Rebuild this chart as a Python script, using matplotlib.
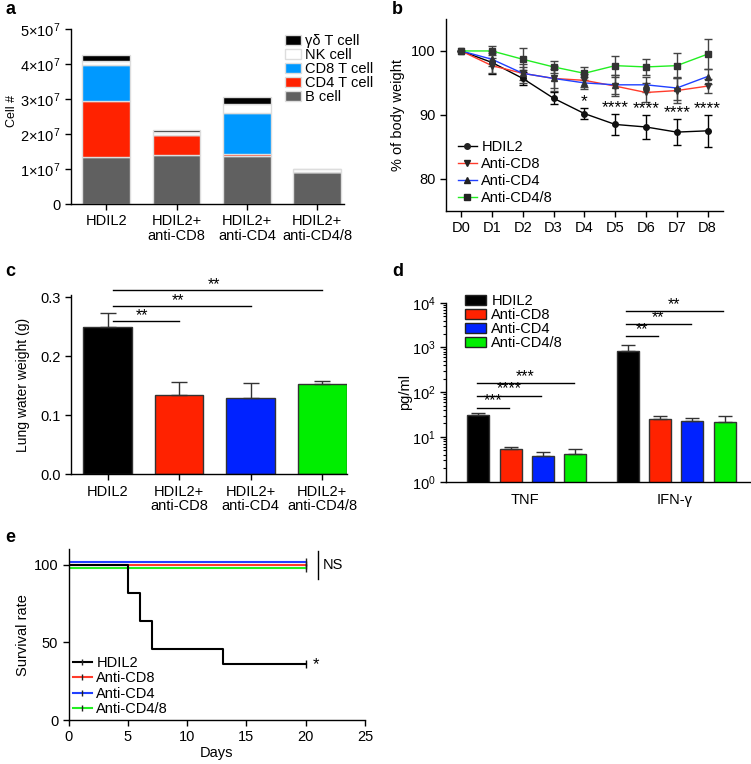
import matplotlib
matplotlib.use('Agg')
import matplotlib.pyplot as plt
import numpy as np
from matplotlib.ticker import FixedLocator, FixedFormatter, NullFormatter, LogLocator
from matplotlib.lines import Line2D
from matplotlib.patches import Patch

plt.rcParams['font.family'] = ['Liberation Sans', 'DejaVu Sans']
plt.rcParams['mathtext.fontset'] = 'custom'
plt.rcParams['mathtext.rm'] = 'Liberation Sans'
plt.rcParams['mathtext.it'] = 'Liberation Sans:italic'
plt.rcParams['mathtext.bf'] = 'Liberation Sans:bold'
plt.rcParams['font.size'] = 10.5
plt.rcParams['axes.linewidth'] = 1.0
plt.rcParams['xtick.major.width'] = 1.0
plt.rcParams['ytick.major.width'] = 1.0
plt.rcParams['xtick.major.size'] = 4
plt.rcParams['ytick.major.size'] = 4

# ---------------- data ----------------
# panel a
a_groups = ['HDIL2', 'HDIL2+\nanti-CD8', 'HDIL2+\nanti-CD4', 'HDIL2+\nanti-CD4/8']
a_cell_types = ['B cell', 'CD4 T cell', 'CD8 T cell', 'NK cell', 'γδ T cell']
a_b_cell = [1.33e7, 1.40e7, 1.38e7, 0.92e7]
a_cd4 = [1.62e7, 0.57e7, 0.05e7, 0.0]
a_cd8 = [1.02e7, 0.0, 1.18e7, 0.0]
a_nk = [0.11e7, 0.09e7, 0.25e7, 0.08e7]
a_gd = [0.17e7, 0.05e7, 0.20e7, 0.0]
a_yticks = [0, 1e7, 2e7, 3e7, 4e7, 5e7]
a_yticklabels = ['0', r'$1{\times}10^{7}$', r'$2{\times}10^{7}$', r'$3{\times}10^{7}$',
                 r'$4{\times}10^{7}$', r'$5{\times}10^{7}$']

# panel b
b_days = ['D0', 'D1', 'D2', 'D3', 'D4', 'D5', 'D6', 'D7', 'D8']
b_series = ['HDIL2', 'Anti-CD8', 'Anti-CD4', 'Anti-CD4/8']
b_hdil2 = [100, 98.2, 95.7, 92.6, 90.2, 88.5, 88.1, 87.3, 87.5]
b_hdil2_err = [0, 1.8, 1.0, 0.9, 0.9, 1.7, 1.9, 2.0, 2.5]
b_cd8 = [100, 97.7, 96.5, 95.7, 95.4, 94.5, 93.5, 93.8, 94.5]
b_cd8_err = [0, 1.2, 1.0, 1.5, 1.0, 1.5, 1.5, 2.0, 1.1]
b_cd4 = [100, 98.7, 96.5, 95.7, 95.0, 94.7, 94.7, 94.2, 96.0]
b_cd4_err = [0, 1.0, 1.5, 2.0, 1.0, 1.5, 1.2, 1.8, 1.2]
b_cd48 = [100, 100, 98.7, 97.5, 96.5, 97.7, 97.5, 97.7, 99.5]
b_cd48_err = [0, 0.7, 1.7, 1.0, 1.0, 1.5, 1.3, 2.0, 2.4]
b_stars = ['', '', '', '', '*', '****', '****', '****', '****']

# panel c
c_values = [0.25, 0.134, 0.13, 0.153]
c_err = [0.024, 0.022, 0.024, 0.005]
c_sig = ['**', '**', '**']

# panel d
d_cytokines = ['TNF', 'IFN-γ']
d_tnf = [31, 5.3, 3.7, 4.2]
d_tnf_err = [3, 0.7, 1.0, 1.3]
d_ifn = [830, 25, 23, 22]
d_ifn_err = [300, 5, 3, 7]
d_tnf_sig = ['***', '****', '***']
d_ifn_sig = ['**', '**', '**']

# panel e
e_series = ['HDIL2', 'Anti-CD8', 'Anti-CD4', 'Anti-CD4/8']
e_hdil2_days = [0, 5, 6, 7, 13, 20]
e_hdil2_surv = [100, 81.8, 63.6, 45.5, 36.4, 36.4]
e_other_days = [0, 20]
e_other_surv = [100, 100]

# ---------------- layout ----------------
W, H = 751, 764
fig = plt.figure(figsize=(W / 100, H / 100), dpi=100)


def rect(l, t, r, b):
    return [l / W, 1 - b / H, (r - l) / W, (b - t) / H]


def style(ax):
    ax.spines['top'].set_visible(False)
    ax.spines['right'].set_visible(False)
    ax.tick_params(direction='out')


RED = '#ff2200'
BLUE = '#0022ff'
GREEN = '#00ee00'
LRED = '#ff3b2b'
LBLUE = '#2040ff'
LGREEN = '#22ee22'

# ---------------- panel a ----------------
ax = fig.add_axes(rect(71, 29, 344, 204))
style(ax)
xa = np.arange(len(a_groups))
colors_a = ['#606060', RED, '#0099ff', 'white', 'black']
stack = [a_b_cell, a_cd4, a_cd8, a_nk, a_gd]
bottom = np.zeros(len(a_groups))
handles = []
for vals, col, lab in zip(stack, colors_a, a_cell_types):
    ax.bar(xa, vals, 0.68, bottom=bottom, color=col, edgecolor='#dddddd', linewidth=1.0)
    bottom = bottom + np.array(vals)
    handles.append(Patch(facecolor=col, edgecolor='#dddddd', linewidth=1.0, label=lab))
ax.set_xlim(-0.5, 3.38)
ax.set_ylim(0, 5e7)
ax.yaxis.set_major_locator(FixedLocator(a_yticks))
ax.yaxis.set_major_formatter(FixedFormatter(a_yticklabels))
ax.set_xticks(xa)
ax.set_xticklabels(a_groups, linespacing=1.05)
ax.set_ylabel('Cell #', fontsize=9)
ax.yaxis.set_label_coords(-0.195, 0.53)
ax.legend(handles[::-1], [h.get_label() for h in handles[::-1]], loc='upper left',
          bbox_to_anchor=(285 / W, 1 - 34 / H), bbox_transform=fig.transFigure,
          frameon=False, fontsize=10.5, borderpad=0, borderaxespad=0,
          handlelength=1.1, handleheight=0.75, handletextpad=0.3, labelspacing=0.0)

# ---------------- panel b ----------------
ax = fig.add_axes(rect(445.7, 19, 723, 210.7))
style(ax)
xb = np.arange(len(b_days))
series_b = [(b_hdil2, b_hdil2_err, 'black', 'o', 'black'),
            (b_cd8, b_cd8_err, LRED, 'v', '#444444'),
            (b_cd4, b_cd4_err, LBLUE, '^', '#444444'),
            (b_cd48, b_cd48_err, LGREEN, 's', '#444444')]
for i, (vals, err, col, mk, ecol) in enumerate(series_b):
    ax.errorbar(xb, vals, yerr=err, fmt='none', ecolor=ecol, elinewidth=1.0,
                capsize=3, capthick=1.0, zorder=2)
for i, (vals, err, col, mk, ecol) in enumerate(series_b):
    ax.plot(xb, vals, color=col, lw=1.0, zorder=3, label=b_series[i])
    ax.plot(xb, vals, ls='none', marker=mk, ms=4, color='#111111' if i == 0 else '#333333', zorder=4)
for x, s, v, e in zip(xb, b_stars, b_hdil2, b_hdil2_err):
    if s:
        ax.text(x, v + e + 1.0, s, ha='center', va='center', fontsize=12.5)
ax.set_xlim(-0.5, 8.5)
ax.set_ylim(75, 105)
ax.set_yticks([80, 90, 100])
ax.set_xticks(xb)
ax.set_xticklabels(b_days)
ax.set_ylabel('% of body weight')
ax.yaxis.set_label_coords(-0.147, 0.5)
leg_h = [Line2D([0], [0], color=c, lw=1.0, marker=m, ms=4, mfc='#222222', mec='#222222')
         for (_, _, c, m, _) in series_b]
ax.legend(leg_h, b_series, loc='upper left', bbox_to_anchor=(458 / W, 1 - 140 / H),
          bbox_transform=fig.transFigure, frameon=False, fontsize=10.5, borderpad=0,
          borderaxespad=0, handlelength=1.3, handletextpad=0.3, labelspacing=0.2)

# ---------------- panel c ----------------
ax = fig.add_axes(rect(71, 295, 346.7, 474.3))
style(ax)
xc = np.arange(len(c_values))
ax.bar(xc, c_values, 0.68, color=['black', RED, BLUE, GREEN], edgecolor='#333333',
       linewidth=1.0, yerr=[[0] * 4, c_err], capsize=6,
       error_kw=dict(elinewidth=1.0, capthick=1.0, ecolor='#333333'))
ax.set_xlim(-0.51, 3.34)
ax.set_ylim(0, 0.304)
ax.set_yticks([0.0, 0.1, 0.2, 0.3])
ax.set_yticklabels(['0.0', '0.1', '0.2', '0.3'])
ax.set_xticks(xc)
ax.set_xticklabels(a_groups, linespacing=1.05)
ax.set_ylabel('Lung water weight (g)', fontsize=10)
ax.yaxis.set_label_coords(-0.149, 0.5)
c_sig_y = [0.26, 0.285, 0.312]
for j, (s, y) in enumerate(zip(c_sig, c_sig_y)):
    x0, x1 = 0.07, j + 1
    ax.plot([x0, x1], [y, y], color='black', lw=1.0, clip_on=False)
    ax.text((x0 + x1) / 2 - 0.05, y - 0.003, s, ha='center', va='bottom', fontsize=11.5)

# ---------------- panel d ----------------
ax = fig.add_axes(rect(445.7, 302.7, 751, 481.7))
style(ax)
group_start = [0.0, 4.63]
cols_d = ['black', RED, BLUE, GREEN]
for g, (vals, err) in enumerate([(d_tnf, d_tnf_err), (d_ifn, d_ifn_err)]):
    xs = group_start[g] + np.arange(4)
    ax.bar(xs, vals, 0.68, color=cols_d, edgecolor='#333333', linewidth=1.0,
           yerr=[[0] * 4, err], capsize=5,
           error_kw=dict(elinewidth=1.0, capthick=1.0, ecolor='#333333'))
ax.set_yscale('log')
ax.set_ylim(1, 1e4)
ax.set_xlim(-1.01, 8.45)
ax.yaxis.set_major_locator(LogLocator(base=10, numticks=10))
ax.yaxis.set_minor_locator(LogLocator(base=10, subs=np.arange(2, 10), numticks=10))
ax.yaxis.set_minor_formatter(NullFormatter())
ax.tick_params(axis='y', which='minor', length=2.5, width=0.8)
ax.set_xticks([group_start[0] + 1.45, group_start[1] + 1.45])
ax.set_xticklabels(d_cytokines)
ax.tick_params(axis='x', length=0, pad=8)
ax.set_ylabel('pg/ml')
ax.yaxis.set_label_coords(-0.11, 0.5)
d_tnf_sig_y = [45, 84, 160]
d_ifn_sig_y = [1780, 3300, 6400]
for g, (sigs, ys) in enumerate([(d_tnf_sig, d_tnf_sig_y), (d_ifn_sig, d_ifn_sig_y)]):
    for j, (s, y) in enumerate(zip(sigs, ys)):
        x0 = group_start[g] - 0.05
        x1 = group_start[g] + j + 1 - 0.05
        ax.plot([x0, x1], [y, y], color='black', lw=1.0, clip_on=False)
        ax.text((x0 + x1) / 2, y * 0.97, s, ha='center', va='bottom', fontsize=11.5)
ax.legend(handles=[Patch(facecolor=c, edgecolor='#222222', linewidth=1.0, label=l)
                   for c, l in zip(cols_d, b_series)],
          loc='upper left', bbox_to_anchor=(465 / W, 1 - 294 / H),
          bbox_transform=fig.transFigure, frameon=False, fontsize=10.5, borderpad=0,
          borderaxespad=0, handlelength=1.45, handleheight=0.75, handletextpad=0.35,
          labelspacing=0.0)

# ---------------- panel e ----------------
ax = fig.add_axes(rect(68.7, 549.3, 365, 720))
style(ax)
e_cols = [LRED, LBLUE, LGREEN]
e_offsets = [0.0, 2.0, -2.0]
for c, off in zip(e_cols, e_offsets):
    ax.step(e_other_days, np.array(e_other_surv) + off, where='post', color=c, lw=1.5)
    ax.plot([e_other_days[-1]], [e_other_surv[-1] + off], marker='|', ms=6, color='#222222', mew=1.0)
ax.step(e_hdil2_days, e_hdil2_surv, where='post', color='black', lw=1.5)
ax.plot([e_hdil2_days[-1]], [e_hdil2_surv[-1]], marker='|', ms=6, color='black', mew=1.0)
ax.plot([21.0, 21.0], [90.6, 109], color='black', lw=1.0, clip_on=False)
ax.text(21.4, 100, 'NS', ha='left', va='center', fontsize=10.5)
ax.text(20.9, 35.5, '*', ha='center', va='center', fontsize=12)
ax.set_xlim(0, 25)
ax.set_ylim(0, 110)
ax.set_xticks([0, 5, 10, 15, 20, 25])
ax.set_yticks([0, 50, 100])
ax.set_xlabel('Days')
ax.xaxis.set_label_coords(0.5, -0.155)
ax.set_ylabel('Survival rate')
ax.yaxis.set_label_coords(-0.13, 0.5)
leg_e = [Line2D([0], [0], color=c, lw=1.5, marker='|', ms=4, mec='#222222')
         for c in ['black'] + e_cols]
ax.legend(leg_e, e_series, loc='upper left', bbox_to_anchor=(73 / W, 1 - 656 / H),
          bbox_transform=fig.transFigure, frameon=False, fontsize=10.5, borderpad=0,
          borderaxespad=0, handlelength=1.3, handletextpad=0.3, labelspacing=0.1)

# panel labels
for lab, x, y in [('a', 5, 10), ('b', 392, 10), ('c', 5, 271), ('d', 392, 271), ('e', 5, 537)]:
    fig.text(x / W, 1 - y / H, lab, fontsize=13, fontweight='bold', ha='left', va='center')

fig.savefig('out.png', dpi=100)
